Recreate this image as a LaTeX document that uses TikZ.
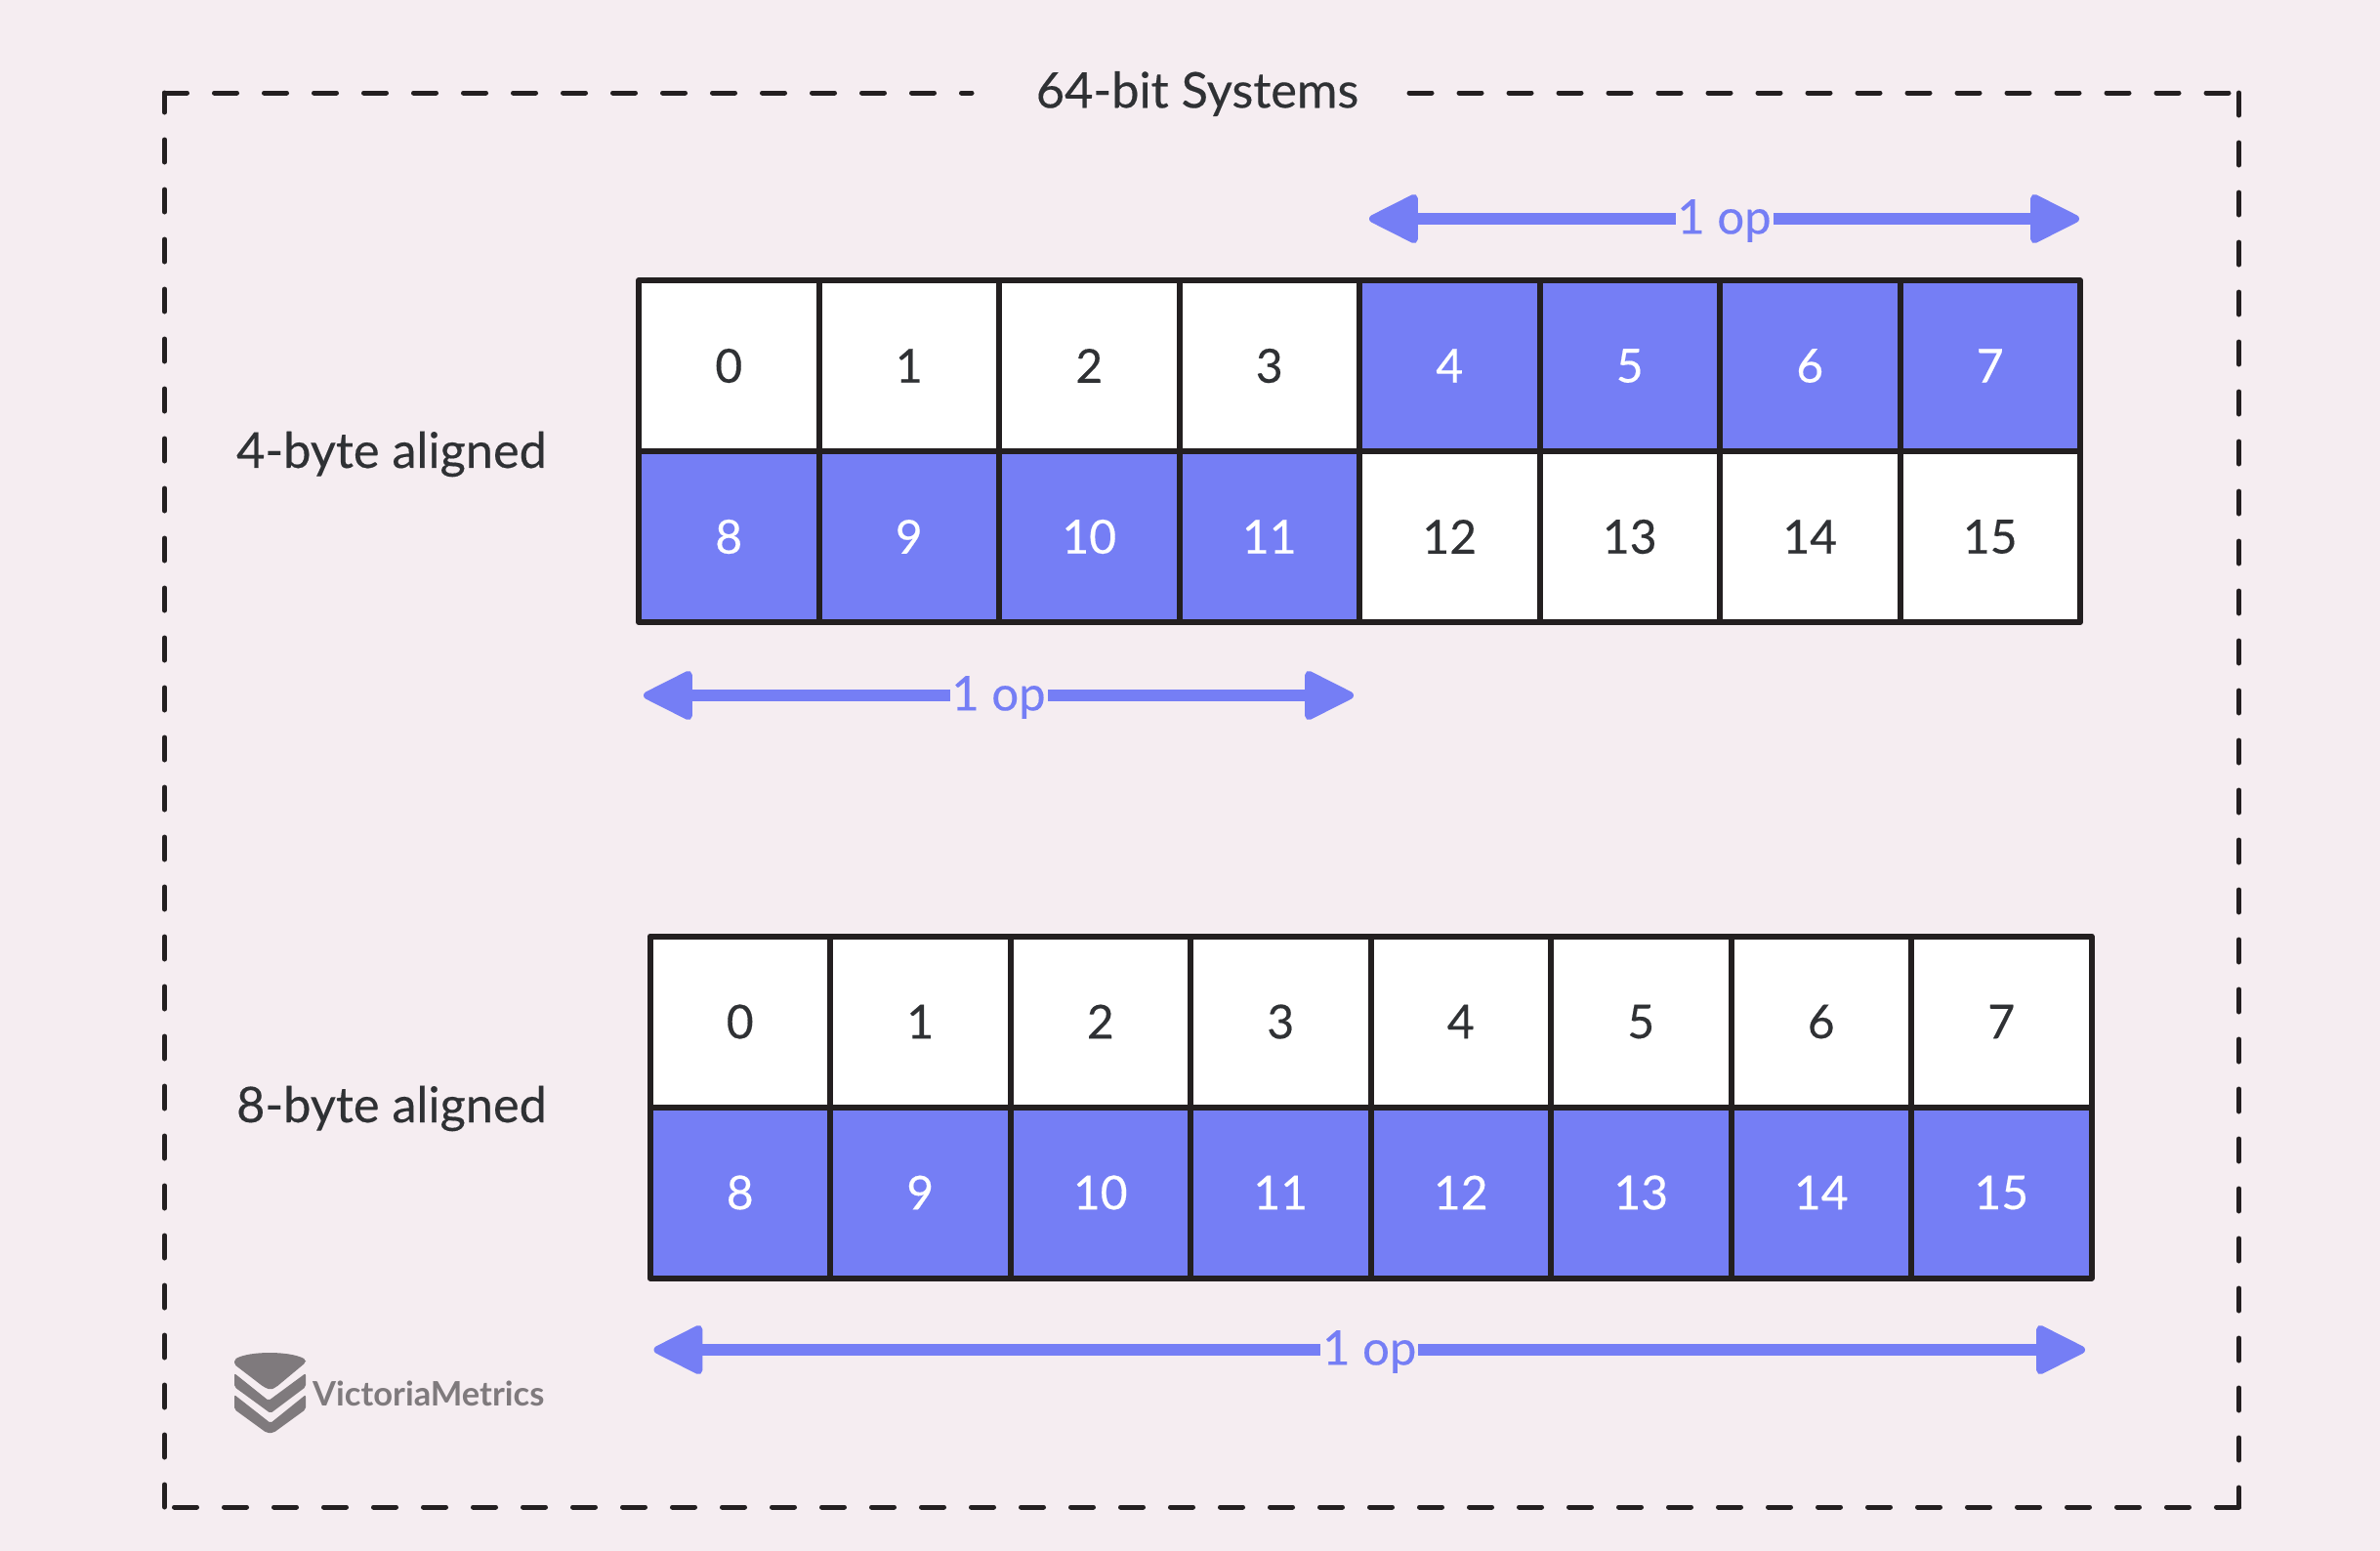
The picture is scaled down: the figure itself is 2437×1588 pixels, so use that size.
\documentclass[tikz,border=0pt]{standalone}
\usepackage{fontspec}
\setmainfont{Lato}[FakeBold=0.3]
\newfontfamily\logofont{Lato}
\usetikzlibrary{positioning,arrows.meta}
\definecolor{pagebg}{HTML}{F5EDF1}
\definecolor{opblue}{HTML}{757EF5}
\definecolor{inkdark}{HTML}{231F20}
\definecolor{textdark}{HTML}{2F3134}
\definecolor{logogray}{HTML}{7F7A7D}
\tikzset{
  cell/.style={rectangle, draw=inkdark, line width=6pt, line join=round, minimum width=184.5pt, minimum height=175pt, inner sep=0pt, outer sep=0pt, text=textdark, font=\fontsize{48}{58}\selectfont},
  bluecell/.style={cell, fill=opblue, text=white},
  whitecell/.style={cell, fill=white},
  frameline/.style={draw=inkdark, line width=5pt, line cap=round, dash pattern=on 23pt off 28pt},
  oparrow/.style={opblue, line width=12pt, {Triangle[length=55pt,width=53pt,line width=8pt,round]}-{Triangle[length=55pt,width=53pt,line width=8pt,round]}},
  oplabel/.style={fill=pagebg, text=opblue, inner sep=0pt, minimum width=100pt, minimum height=60pt, font=\fontsize{49}{58}\selectfont},
  rowlabel/.style={text=textdark, font=\fontsize{50.5}{60}\selectfont}
}
\begin{document}
\begin{tikzpicture}[x=1pt,y=-1pt]
        \fill[pagebg] (0,0) rectangle (2437,1588);
        \useasboundingbox (0,0) rectangle (2437,1588);

        % outer frame
        \coordinate (frameTL) at (168.5,95);
        \coordinate (frameTR) at (2292.5,95);
        \coordinate (frameBL) at (168.5,1543);
        \coordinate (frameBR) at (2292.5,1543);
        \coordinate (gapL) at (995,95);
        \coordinate (gapR) at (1443,95);
        \draw[frameline] (frameTL) -- (gapL);
        \draw[frameline] (gapR) -- (frameTR);
        \draw[frameline] (frameTR) -- (frameBR);
        \draw[frameline] (frameBR) -- (frameBL);
        \draw[frameline] (frameBL) -- (frameTL);
        \node[rowlabel] (title) at (1226,96) {64-bit Systems};

        % 4-byte aligned rows
        \foreach \i in {0,...,3} {
            \node[whitecell] (a\i) at (746.25+\i*184.5,374.5) {\i};
        }
        \foreach \i in {4,...,7} {
            \node[bluecell] (a\i) at (746.25+\i*184.5,374.5) {\i};
        }
        \foreach \i [evaluate=\i as \n using int(\i+8)] in {0,...,3} {
            \node[bluecell] (a\n) at (746.25+\i*184.5,549.5) {\n};
        }
        \foreach \i [evaluate=\i as \n using int(\i+8)] in {4,...,7} {
            \node[whitecell] (a\n) at (746.25+\i*184.5,549.5) {\n};
        }

        % 8-byte aligned rows
        \foreach \i in {0,...,7} {
            \node[whitecell] (b\i) at (757.75+\i*184.5,1046) {\i};
        }
        \foreach \i [evaluate=\i as \n using int(\i+8)] in {0,...,7} {
            \node[bluecell] (b\n) at (757.75+\i*184.5,1221) {\n};
        }

        \node[rowlabel] (four) at (401,465) {4-byte aligned};
        \node[rowlabel] (eight) at (401,1135) {8-byte aligned};

        % arrows
        \coordinate (opAl) at (1402,224);
        \coordinate (opAr) at (2129,224);
        \coordinate (opBl) at (659,712);
        \coordinate (opBr) at (1386,712);
        \coordinate (opCl) at (669.5,1382);
        \coordinate (opCr) at (2135,1382);
        \draw[oparrow] (opAl) -- node[oplabel, yshift=-2pt] (opA) {1 op} (opAr);
        \draw[oparrow] (opBl) -- node[oplabel, yshift=-2pt] (opB) {1 op} (opBr);
        \draw[oparrow] (opCl) -- node[oplabel, yshift=-2pt] (opC) {1 op} (opCr);

        % logo
        \fill[logogray, rounded corners=2pt] (240,1392) .. controls (255,1383) and (297,1383) .. (313,1392) -- (313,1395) -- (283,1420) -- (277,1423) -- (270,1420) -- (240,1397) -- cycle;
        \fill[logogray, rounded corners=2pt] (240,1406) -- (275,1434) -- (313,1406) -- (313,1420) -- (277,1447) -- (240,1420) -- cycle;
        \fill[logogray, rounded corners=2pt] (240,1428) -- (277,1457) -- (313,1428) -- (313,1443) -- (280,1467) -- (273,1467) -- (240,1443) -- cycle;
        \node[anchor=base west, inner sep=0pt, text=logogray, font=\fontsize{34.5}{38}\logofont\bfseries] (logo) at (320,1439) {VictoriaMetrics};
\end{tikzpicture}
\end{document}
